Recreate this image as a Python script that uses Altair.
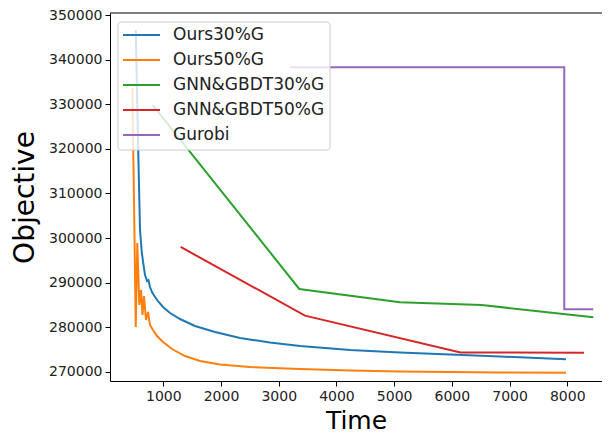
import altair as alt
import pandas as pd

# ---------------- data ----------------
series_names = ["Ours30%G", "Ours50%G", "GNN&GBDT30%G", "GNN&GBDT50%G", "Gurobi"]
series_colors = ["#1f77b4", "#ff7f0e", "#2ca02c", "#d62728", "#9467bd"]

ours30_time = [522, 561, 596, 626, 657, 683, 717, 743, 769, 804, 856, 908, 995, 1116,
               1289, 1549, 1896, 2329, 2849, 3369, 4235, 5102, 5968, 6835, 7978]
ours30_obj = [346640, 321970, 301790, 296860, 293950, 291700, 290360, 290580, 289010,
              287890, 286770, 285870, 284530, 283180, 281840, 280270, 278920, 277580,
              276570, 275780, 274890, 274330, 273880, 273430, 272800]

ours50_time = [463, 492, 522, 549, 570, 584, 613, 639, 665, 700, 735, 769, 821, 891,
               995, 1151, 1376, 1636, 1982, 2502, 3369, 4235, 5102, 6835, 7978]
ours50_obj = [333630, 308520, 280040, 298880, 290580, 284980, 288340, 282740, 287000,
              281610, 283410, 280490, 279370, 278030, 276680, 275110, 273540, 272420,
              271640, 271080, 270630, 270290, 270070, 269840, 269800]

gnn30_time = [816, 3356, 5100, 6517, 8451]
gnn30_obj = [329820, 288570, 285580, 284980, 282220]

gnn50_time = [1300, 3455, 6150, 8290]
gnn50_obj = [298000, 282600, 274350, 274300]

gurobi_time = [3195, 7948, 7948, 8451]
gurobi_obj = [338300, 338300, 284000, 284000]

x_ticks = [1000, 2000, 3000, 4000, 5000, 6000, 7000, 8000]
y_ticks = [270000, 280000, 290000, 300000, 310000, 320000, 330000, 340000, 350000]

# ---------------- table ----------------
rows = []
for name, ts, ys in zip(series_names,
                        [ours30_time, ours50_time, gnn30_time, gnn50_time, gurobi_time],
                        [ours30_obj, ours50_obj, gnn30_obj, gnn50_obj, gurobi_obj]):
    for i, (t, y) in enumerate(zip(ts, ys)):
        rows.append({"series": name, "time": t, "obj": y, "idx": i})
df = pd.DataFrame(rows)

W, H = 492, 368
FONT = "DejaVu Sans"

lines = alt.Chart(df).mark_line(strokeWidth=2, clip=True).encode(
    x=alt.X("time:Q",
            scale=alt.Scale(domain=[76, 8602], nice=False, zero=False),
            axis=alt.Axis(values=x_ticks, format="d", title="Time", grid=False,
                          titleFontSize=25, titleFont=FONT, titleFontWeight="normal",
                          titleColor="black", titleY=47, titleBaseline="alphabetic")),
    y=alt.Y("obj:Q",
            scale=alt.Scale(domain=[267940, 350450], nice=False, zero=False),
            axis=alt.Axis(values=y_ticks, format="d", title="Objective", grid=False,
                          titleFontSize=28, titleFont=FONT, titleFontWeight="normal",
                          titleColor="black", titleX=-77, titleY=H / 2,
                          titleBaseline="alphabetic")),
    color=alt.Color("series:N", scale=alt.Scale(domain=series_names, range=series_colors),
                    legend=None),
    order=alt.Order("idx:Q"),
)

one = pd.DataFrame({"k": [0]})
top_rule = alt.Chart(one).mark_rule(color="black", strokeWidth=1).encode(
    x=alt.value(0), x2=alt.value(W), y=alt.value(0))

legend_box = alt.Chart(one).mark_rect(
    fill="white", fillOpacity=0.8, stroke="#cccccc", strokeWidth=1, cornerRadius=3
).encode(x=alt.value(8), x2=alt.value(220), y=alt.value(9), y2=alt.value(137))

layers = [lines, top_rule, legend_box]
row_y = [22, 47, 72, 97, 122]
for name, col, ry in zip(series_names, series_colors, row_y):
    d = pd.DataFrame({"name": [name]})
    layers.append(alt.Chart(d).mark_rule(color=col, strokeWidth=2).encode(
        x=alt.value(13), x2=alt.value(50), y=alt.value(ry)))
    layers.append(alt.Chart(d).mark_text(
        align="left", baseline="middle", fontSize=17, font=FONT, color="#222222"
    ).encode(x=alt.value(63), y=alt.value(ry), text="name:N"))

chart = alt.layer(*layers).properties(
    width=W, height=H,
    autosize=alt.AutoSizeParams(type="none"),
    padding={"left": 102, "top": 5, "right": 0, "bottom": 53},
).configure_view(stroke=None).configure_axis(
    domainColor="black", domainWidth=1, tickColor="black", tickSize=5, tickWidth=1,
    labelFont=FONT, labelFontSize=14, labelColor="#222222", labelPadding=3,
)

chart.save("out.html", embed_options={"renderer": "svg", "actions": False})
